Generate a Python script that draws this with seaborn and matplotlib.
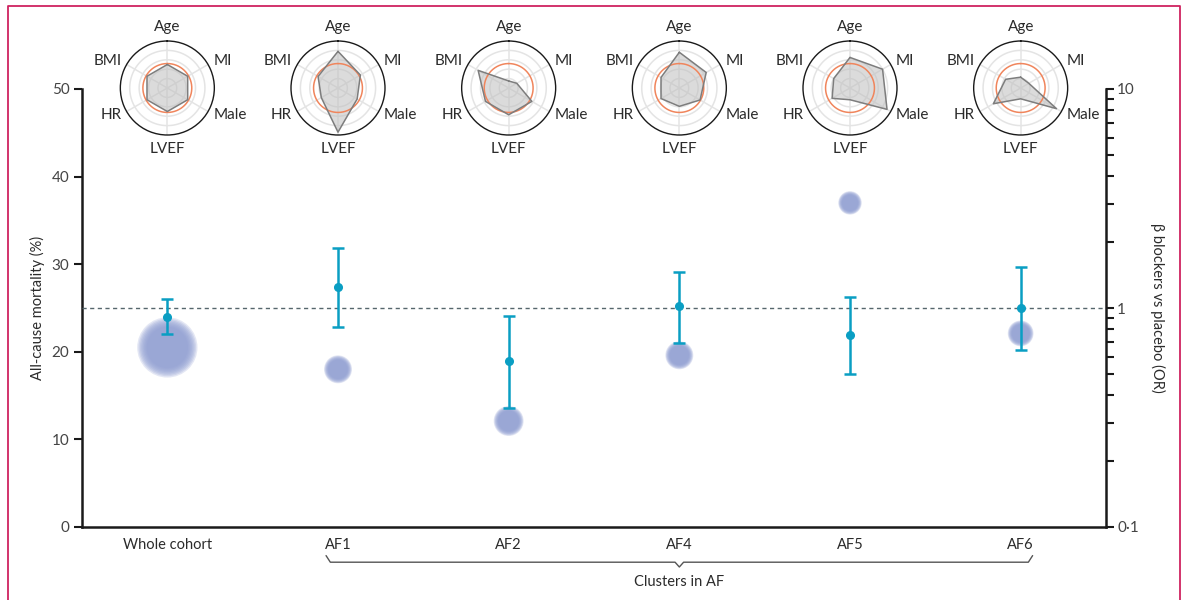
import numpy as np
import pandas as pd
import matplotlib
matplotlib.use("Agg")
import matplotlib.pyplot as plt
import matplotlib.ticker as mticker
from matplotlib.transforms import blended_transform_factory
from matplotlib.lines import Line2D
import seaborn as sns

sns.set_theme(style="white")
plt.rcParams["font.family"] = ["Lato", "DejaVu Sans"]

# ── data ─────────────────────────────────────────────────────
groups = ["Whole cohort", "AF1", "AF2", "AF4", "AF5", "AF6"]
mortality = [20.5, 18.0, 12.1, 19.6, 37.0, 22.1]          # %, left axis
group_n = [2837, 610, 700, 610, 430, 520]                 # bubble area
odds_ratio = [0.91, 1.25, 0.57, 1.02, 0.75, 1.00]         # right axis (log)
or_low = [0.76, 0.82, 0.35, 0.69, 0.50, 0.64]
or_high = [1.10, 1.88, 0.92, 1.46, 1.12, 1.54]

radar_labels = ["Age", "MI", "Male", "LVEF", "HR", "BMI"]
radar_whole = [0.50, 0.50, 0.50, 0.50, 0.50, 0.50]
radar_af1 = [0.78, 0.55, 0.47, 0.94, 0.41, 0.49]
radar_af2 = [0.15, 0.20, 0.57, 0.57, 0.57, 0.75]
radar_af4 = [0.76, 0.66, 0.51, 0.39, 0.45, 0.45]
radar_af5 = [0.65, 0.80, 0.91, 0.25, 0.44, 0.40]
radar_af6 = [0.23, 0.20, 0.88, 0.23, 0.67, 0.37]
radar_ref = 0.52

df = pd.DataFrame({"group": groups, "x": np.arange(len(groups)),
                   "mortality": mortality, "n": group_n})

BUBBLE = "#8f9ed2"
TEAL = "#0a9ec3"
TXT = "#2b2b2b"

W, H = 1187, 600
fig = plt.figure(figsize=(W / 100, H / 100), dpi=100)

# main axes
ax = fig.add_axes([82 / W, 73 / H, 1024 / W, 438 / H])
ax.set_xlim(-0.5, len(groups) - 0.5)
ax.set_ylim(0, 50)

# soft-edged bubbles, layered to fake the blur
base = df["n"].to_numpy() * 0.57
for f in np.linspace(1.08, 0.74, 8):
    sns.scatterplot(data=df, x="x", y="mortality", ax=ax, s=base * f ** 2,
                    color=BUBBLE, alpha=0.24, linewidth=0, legend=False,
                    zorder=2)

ax.set_yticks(range(0, 51, 10))
ax.set_ylabel("All-cause mortality (%)", fontsize=10.5, color=TXT, labelpad=5)
ax.set_xlabel("")
ax.set_xticks(np.arange(-0.5, len(groups), 1.0))
ax.set_xticklabels([])
ax.set_xticks(df["x"], minor=True)
ax.set_xticklabels(groups, minor=True, fontsize=10.5, color=TXT)
ax.tick_params(axis="x", which="major", direction="out", length=6, width=1.5,
               color="#1a1a1a")
ax.tick_params(axis="x", which="minor", length=0, pad=8)
ax.tick_params(axis="y", direction="out", length=6, width=1.5, color="#1a1a1a",
               labelsize=11, labelcolor="#444444", pad=3)
for side in ["left", "bottom"]:
    ax.spines[side].set_linewidth(1.8)
    ax.spines[side].set_color("#1a1a1a")
ax.spines["top"].set_visible(False)
ax.spines["right"].set_visible(False)

# OR axis
ax2 = ax.twinx()
ax2.set_yscale("log")
ax2.set_ylim(0.1, 10)
ax2.axhline(1, color="#56666c", linestyle=(0, (3, 2.5)), linewidth=1.0,
            zorder=1)
ors = np.array(odds_ratio)
yerr = [ors - np.array(or_low), np.array(or_high) - ors]
ax2.errorbar(df["x"], ors, yerr=yerr, fmt="o", color=TEAL, ecolor=TEAL,
             elinewidth=1.8, capsize=4, capthick=1.8, markersize=5.5, zorder=3)
ax2.yaxis.set_major_locator(mticker.FixedLocator([0.1, 1, 10]))
ax2.yaxis.set_major_formatter(mticker.FixedFormatter(["0·1", "1", "10"]))
ax2.yaxis.set_minor_locator(mticker.LogLocator(base=10, subs=np.arange(2, 10)))
ax2.yaxis.set_minor_formatter(mticker.NullFormatter())
ax2.tick_params(axis="y", which="both", direction="out", length=6, width=1.5,
                color="#1a1a1a", labelsize=11, labelcolor="#444444", pad=2)
ax2.set_ylabel("β blockers vs placebo (OR)", rotation=270, fontsize=10.5,
               color=TXT, labelpad=19, family=["Lato", "DejaVu Sans"])
for side in ["left", "top", "bottom"]:
    ax2.spines[side].set_visible(False)
ax2.spines["right"].set_linewidth(1.8)
ax2.spines["right"].set_color("#1a1a1a")

# brace under the AF clusters
tr = blended_transform_factory(ax.transData, fig.transFigure)
d = 0.025
bx = [0.93, 0.93 + d, 3.0 - d, 3.0, 3.0 + d, 5.07 - d, 5.07]
by = [0.074, 0.063, 0.063, 0.055, 0.063, 0.063, 0.074]
fig.add_artist(Line2D(bx, by, transform=tr, color="#555555", linewidth=1.0))
ax.text(3.0, 0.030, "Clusters in AF", transform=tr, ha="center", va="center",
        fontsize=10.5, color=TXT, clip_on=False)

# radar profiles above each group
profiles = [radar_whole, radar_af1, radar_af2, radar_af4, radar_af5, radar_af6]
theta = np.deg2rad(np.arange(0, 360, 60))
circ = np.linspace(0, 2 * np.pi, 200)
label_pos = [(1.30, "center", "center"), (1.13, "left", "center"),
             (1.13, "left", "center"), (1.30, "center", "center"),
             (1.13, "right", "center"), (1.13, "right", "center")]
R = 47
for i, vals in enumerate(profiles):
    cx = ax.transData.transform((i, 0))[0]
    cy = H - 88
    rax = fig.add_axes([(cx - R) / W, (cy - R) / H, 2 * R / W, 2 * R / H],
                       projection="polar")
    rax.set_theta_zero_location("N")
    rax.set_theta_direction(-1)
    rax.set_ylim(0, 1)
    rax.set_xticks([])
    rax.set_yticks([])
    rax.grid(False)
    rax.set_facecolor("white")
    rax.spines["polar"].set_color("#1a1a1a")
    rax.spines["polar"].set_linewidth(1.0)
    for r in [0.2, 0.4, 0.6, 0.8]:
        rax.plot(circ, np.full_like(circ, r), color="#e4e4e4", lw=1.1, zorder=1)
    for t in theta:
        rax.plot([t, t], [0, 1], color="#e4e4e4", lw=1.1, zorder=1)
    tv = np.append(theta, theta[0])
    vv = np.append(vals, vals[0])
    rax.fill(tv, vv, color="#bfbfbf", alpha=0.55, zorder=2, lw=0)
    rax.plot(circ, np.full_like(circ, radar_ref), color="#f0855c", lw=1.1,
             zorder=3)
    rax.plot(tv, vv, color="#7d7d7d", lw=1.1, zorder=4)
    for t, lab, (rr, ha, va) in zip(theta, radar_labels, label_pos):
        rax.text(t, rr, lab, ha=ha, va=va, fontsize=11, color=TXT,
                 clip_on=False)

# page frame
frame = "#cf2360"
fig.add_artist(Line2D([8 / W, 8 / W, 1180 / W, 1180 / W],
                      [0, 1 - 6 / H, 1 - 6 / H, 0], color=frame, lw=1.3))

fig.savefig("out.png", dpi=100)
